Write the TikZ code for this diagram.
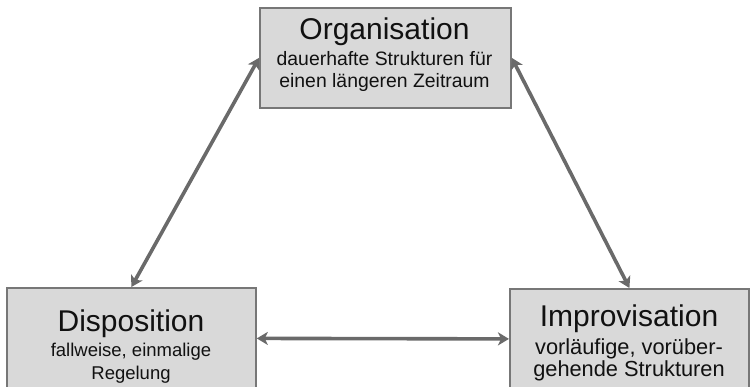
\documentclass[tikz,border=0pt]{standalone}
\usepackage{fontspec}
\setmainfont{Liberation Sans}
\usetikzlibrary{arrows.meta}
\definecolor{boxfill}{HTML}{D9D9D9}
\definecolor{boxline}{HTML}{777777}
\definecolor{arr}{HTML}{6A6A6A}
\definecolor{txt}{HTML}{111111}
\begin{document}
\begin{tikzpicture}[x=1pt,y=-1pt,
  box/.style={draw=boxline,fill=boxfill,line width=1.8pt,inner sep=0pt,anchor=north west},
  ttl/.style={anchor=base,inner sep=0pt,text=txt,font=\fontsize{30}{30}\selectfont},
  sub/.style={anchor=base,inner sep=0pt,text=txt},
  link/.style={draw=arr,line width=3.6pt,{Stealth[length=11pt,width=13pt,inset=3pt]}-{Stealth[length=11pt,width=13pt,inset=3pt]}}]
\useasboundingbox (0,0) rectangle (751,387);
\clip (0,0) rectangle (751,387);
\node[box,minimum width=251pt,minimum height=100pt] (org) at (259,7) {};
\node[box,minimum width=249pt,minimum height=101pt] (disp) at (6,287) {};
\node[box,minimum width=239pt,minimum height=100pt] (imp) at (509,288) {};
\node[ttl] (orgT) at (384.5,39.3) {Organisation};
\node[sub,font=\fontsize{19.4}{19.4}\selectfont] (orgA) at (384.5,65.7) {dauerhafte Strukturen für};
\node[sub,font=\fontsize{19.4}{19.4}\selectfont] (orgB) at (384.5,87.3) {einen längeren Zeitraum};
\node[ttl] (dispT) at (131,331.7) {Disposition};
\node[sub,font=\fontsize{18.5}{18.5}\selectfont] (dispA) at (131,356) {fallweise, einmalige};
\node[sub,font=\fontsize{18.5}{18.5}\selectfont] (dispB) at (131,379.3) {Regelung};
\node[ttl] (impT) at (629,326) {Improvisation};
\node[sub,font=\fontsize{21.8}{21.8}\selectfont] (impA) at (629,354) {vorläufige, vorüber-};
\node[sub,font=\fontsize{21.8}{21.8}\selectfont] (impB) at (629,376.7) {gehende Strukturen};
\draw[link] (org.west) -- (disp.north);
\draw[link] (org.east) -- (imp.north);
\draw[link] (disp.east) -- (imp.west);
\end{tikzpicture}
\end{document}
